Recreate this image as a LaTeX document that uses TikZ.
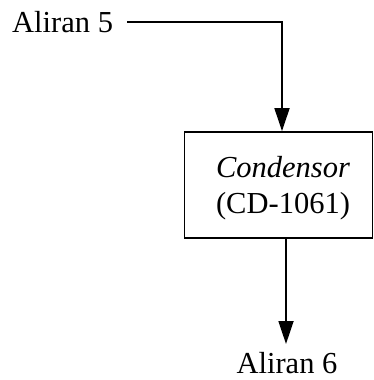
\documentclass[tikz,border=0pt]{standalone}
\usepackage{fontspec}
\setmainfont{Liberation Serif}
\usetikzlibrary{arrows.meta}
\begin{document}
\begin{tikzpicture}[x=1pt,y=-1pt,
  lbl/.style={inner sep=0pt, font=\fontsize{30.5}{36}\selectfont},
  conn/.style={line width=1.8pt},
  arr/.style={conn, -{Triangle[length=23pt,width=15pt]}}]
\useasboundingbox (0,0) rectangle (374,380);
\node[lbl, anchor=base west] (a5) at (12,32) {Aliran 5};
\node[draw, line width=1.8pt, minimum width=188pt, minimum height=106pt, inner sep=0pt] (cd) at (278.5,185) {};
\node[lbl, anchor=base] (t1) at (283,177) {\textit{Condensor}};
\node[lbl, anchor=base] (t2) at (283,213) {(CD-1061)};
\node[lbl, anchor=base] (a6) at (287,373) {Aliran 6};
\coordinate (s5) at (127,22);
\coordinate (k) at (282,22);
\coordinate (o) at (286,238);
\coordinate (e6) at (286,344);
\draw[arr] (s5) -- (k) -- (k |- cd.north);
\draw[arr] (cd.south -| o) -- (e6);
\end{tikzpicture}
\end{document}
